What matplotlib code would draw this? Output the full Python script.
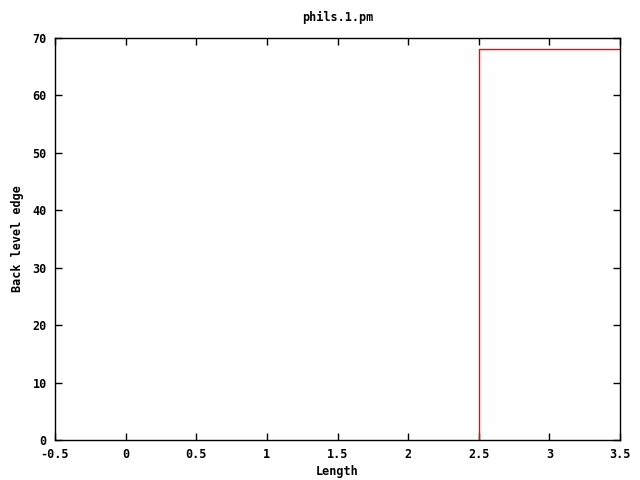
import matplotlib
matplotlib.use('Agg')
import matplotlib.pyplot as plt

# single histogram bin
bin_left = [2.5]
bin_right = [3.5]
counts = [68]

x_ticks = [-0.5, 0, 0.5, 1, 1.5, 2, 2.5, 3, 3.5]
x_labels = ['-0.5', '0', '0.5', '1', '1.5', '2', '2.5', '3', '3.5']
y_ticks = [0, 10, 20, 30, 40, 50, 60, 70]

plt.rcParams['font.family'] = ['DejaVu Sans Mono']
plt.rcParams['font.weight'] = 'bold'
plt.rcParams['font.size'] = 8.5

fig = plt.figure(figsize=(6.4, 4.8), dpi=100)
ax = fig.add_axes([55 / 640, 1 - 440 / 480, 565 / 640, 402 / 480])

# step outline of each bin: up the left edge, across the top
for l, r, c in zip(bin_left, bin_right, counts):
    ax.plot([l, l, r], [0, c, c], color='#ff0000', linewidth=1)

ax.set_xlim(-0.5, 3.5)
ax.set_ylim(0, 70)
ax.set_xticks(x_ticks)
ax.set_xticklabels(x_labels)
ax.set_yticks(y_ticks)
ax.tick_params(direction='in', length=5, width=1, top=True, right=True,
               labelsize=8.5, pad=6, color='black')
for s in ax.spines.values():
    s.set_linewidth(1)

ax.set_title('phils.1.pm', fontsize=8.5, fontweight='bold', pad=12)
ax.set_xlabel('Length', fontsize=8.5, fontweight='bold', labelpad=3)
ax.set_ylabel('Back level edge', fontsize=8.5, fontweight='bold', labelpad=6)

fig.savefig('out.png', dpi=100)
